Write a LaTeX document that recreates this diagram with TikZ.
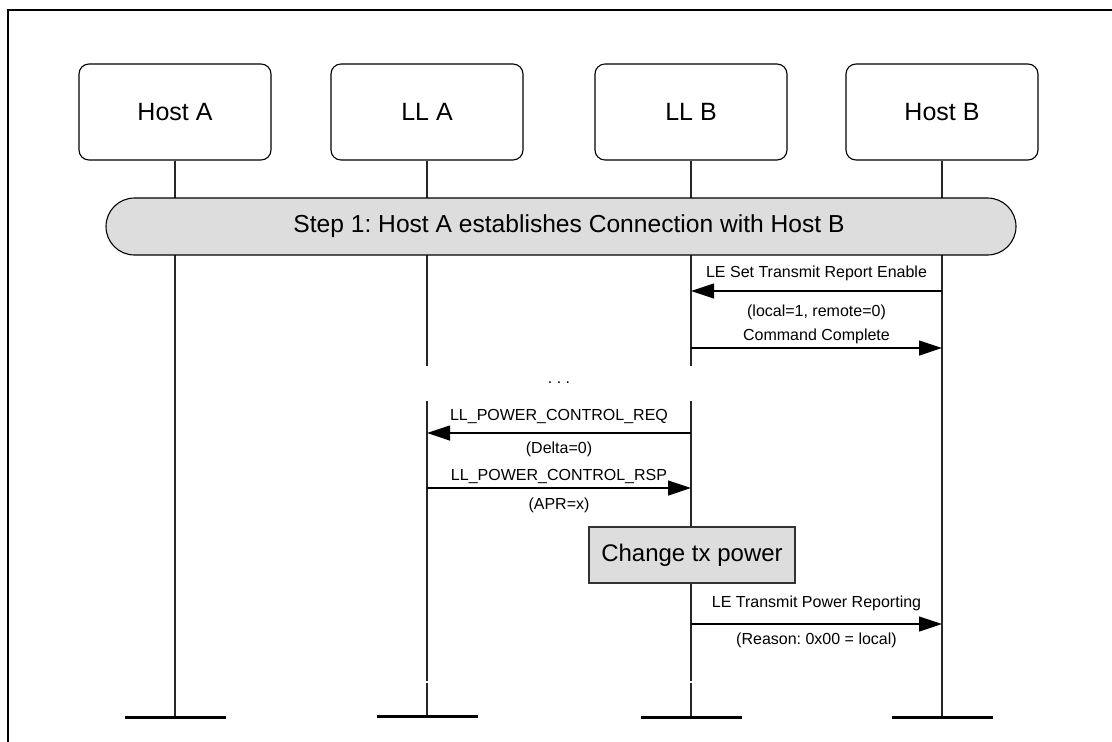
\documentclass[tikz,border=0pt]{standalone}
\usepackage{fontspec}
\setmainfont{Liberation Sans}
\usetikzlibrary{arrows.meta}
\definecolor{bggray}{HTML}{DDDDDD}
\frenchspacing
\begin{document}
\begin{tikzpicture}[x=1pt,y=-1pt,
  actor/.style={draw=black, line width=1.1pt, rounded corners=10pt, minimum width=192pt, minimum height=96pt, font=\fontsize{25}{30}\selectfont, inner sep=0pt},
  banner/.style={draw=black, line width=1.1pt, fill=bggray, rounded corners=28.5pt, minimum width=910pt, minimum height=57pt, font=\fontsize{25}{30}\selectfont, inner sep=0pt},
  lifeline/.style={draw=black!85, line width=1.1pt},
  endbar/.style={line width=3pt},
  msg/.style={line width=1.2pt, -{Triangle[length=23pt,width=15pt]}},
  lbl/.style={font=\fontsize{16}{19}\selectfont, inner sep=0pt},
  actbox/.style={draw=black!80, line width=1.3pt, fill=bggray, minimum width=206pt, minimum height=56pt, font=\fontsize{24}{29}\selectfont, inner sep=0pt},
  frameline/.style={line width=2.3pt}
]
\useasboundingbox (0,0) rectangle (1112,742);
% frame
\draw[frameline] (7.8,742) -- (7.8,10) -- (1112,10);

% actors
\node[actor] (hostA) at (175,112) {Host A};
\node[actor] (llA) at (427,112) {LL A};
\node[actor] (llB) at (691,112) {LL B};
\node[actor] (hostB) at (942,112) {Host B};

% lifeline coordinates
\coordinate (hostAend) at (175,717);
\coordinate (llAend) at (427,716);
\coordinate (llBend) at (691,717);
\coordinate (hostBend) at (942,717);
\coordinate (llAb1) at (427,366);
\coordinate (llAb2) at (427,401);
\coordinate (llAb3) at (427,681);
\coordinate (llAb4) at (427,683);
\coordinate (llBb1) at (691,366);
\coordinate (llBb2) at (691,401);
\coordinate (llBb3) at (691,681);
\coordinate (llBb4) at (691,683);

% lifelines
\draw[lifeline] (hostA.south) -- (hostAend);
\draw[lifeline] (hostB.south) -- (hostBend);
\draw[lifeline] (llA.south) -- (llAb1);
\draw[lifeline] (llAb2) -- (llAb3);
\draw[lifeline] (llAb4) -- (llAend);
\draw[lifeline] (llB.south) -- (llBb1);
\draw[lifeline] (llBb2) -- (llBb3);
\draw[lifeline] (llBb4) -- (llBend);

% end bars
\draw[endbar] ([xshift=-50.5pt]hostAend) -- ([xshift=50.5pt]hostAend);
\draw[endbar] ([xshift=-50.5pt]llAend) -- ([xshift=50.5pt]llAend);
\draw[endbar] ([xshift=-50.5pt]llBend) -- ([xshift=50.5pt]llBend);
\draw[endbar] ([xshift=-50.5pt]hostBend) -- ([xshift=50.5pt]hostBend);

% step banner
\node[banner] (step1) at (561,226.5) {};
\node[font=\fontsize{24.6}{30}\selectfont, inner sep=0pt] (step1t) at (569,226.5) {Step 1: Host A establishes Connection with Host B};

% message 1
\coordinate (m1s) at (942,291);
\coordinate (m1e) at (691,291);
\draw[msg] (m1s) -- (m1e);
\node[lbl] (m1t) at (816.5,273) {LE Set Transmit Report Enable};
\node[lbl] (m1b) at (816.5,312) {(local=1, remote=0)};

% message 2
\coordinate (m2s) at (691,348);
\coordinate (m2e) at (942,348);
\draw[msg] (m2s) -- (m2e);
\node[lbl] (m2t) at (816.5,336) {Command Complete};

% dots
\node[lbl] (dots) at (559,383) {.\ .\ .};

% message 3
\coordinate (m3s) at (691,433);
\coordinate (m3e) at (427,433);
\draw[msg] (m3s) -- (m3e);
\node[lbl] (m3t) at (559,416) {LL\_POWER\_CONTROL\_REQ};
\node[lbl] (m3b) at (559,449) {(Delta=0)};

% message 4
\coordinate (m4s) at (427,488);
\coordinate (m4e) at (691,488);
\draw[msg] (m4s) -- (m4e);
\node[lbl] (m4t) at (559,476) {LL\_POWER\_CONTROL\_RSP};
\node[lbl] (m4b) at (559,505) {(APR=x)};

% action box
\node[actbox] (chg) at (692,555) {Change tx power};

% message 5
\coordinate (m5s) at (691,624);
\coordinate (m5e) at (942,624);
\draw[msg] (m5s) -- (m5e);
\node[lbl] (m5t) at (816.5,603) {LE Transmit Power Reporting};
\node[lbl] (m5b) at (816.5,640) {(Reason: 0x00 = local)};
\end{tikzpicture}
\end{document}
